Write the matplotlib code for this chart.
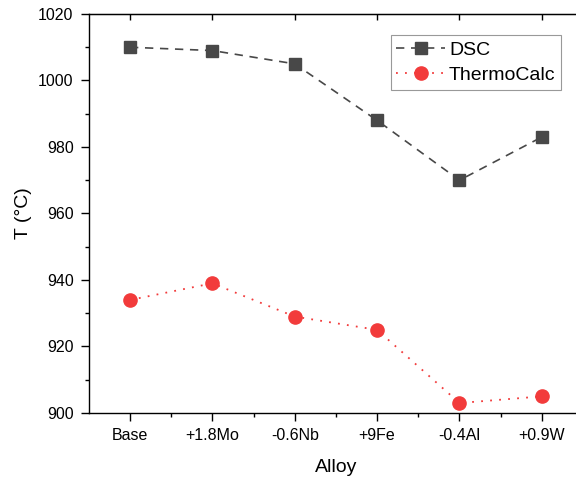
import matplotlib
matplotlib.use("Agg")
import matplotlib.pyplot as plt
from matplotlib.ticker import MultipleLocator

plt.rcParams["font.family"] = ["Liberation Sans", "DejaVu Sans"]

alloys = ["Base", "+1.8Mo", "-0.6Nb", "+9Fe", "-0.4Al", "+0.9W"]
dsc = [1010, 1009, 1005, 988, 970, 983]
thermocalc = [934, 939, 929, 925, 903, 905]

fig = plt.figure(figsize=(5.76, 4.79), dpi=100)
# right spine sits just past the image edge, like the reference crop
ax = fig.add_axes([0.1542, 0.1378, 0.858, 0.833])

x = list(range(len(alloys)))
ax.plot(x, dsc, color="#484848", linestyle=(0, (5, 4)), linewidth=1.2,
        marker="s", markersize=8.5, label="DSC")
ax.plot(x, thermocalc, color="#f23b3b", linestyle=(0, (1, 4)), linewidth=1.3,
        marker="o", markersize=9.5, label="ThermoCalc")

ax.set_xlim(-0.5, 5.5)
ax.set_ylim(900, 1020)
ax.set_xticks(x)
ax.set_xticklabels(alloys)
ax.set_xticks([i + 0.5 for i in x[:-1]], minor=True)
ax.yaxis.set_major_locator(MultipleLocator(20))
ax.yaxis.set_minor_locator(MultipleLocator(10))

ax.tick_params(axis="both", which="major", direction="out", length=6, width=1.0,
               labelsize=11.5, pad=5)
ax.tick_params(axis="both", which="minor", direction="out", length=3, width=1.0)
for s in ax.spines.values():
    s.set_linewidth(1.0)

# mirrored inward ticks on top and right
top = ax.secondary_xaxis("top")
top.set_xticks(x)
top.tick_params(direction="in", length=4, width=1.0, labeltop=False)
right = ax.secondary_yaxis("right")
right.set_yticks([900, 920, 940, 960, 980, 1000, 1020])
right.tick_params(direction="in", length=4, width=1.0, labelright=False)

ax.set_xlabel("Alloy", fontsize=14, labelpad=11)
ax.set_ylabel("T (°C)", fontsize=14, labelpad=4)

leg = ax.legend(loc="upper right", bbox_to_anchor=(0.956, 0.947), borderaxespad=0,
                fontsize=14, fancybox=False, edgecolor="#999999", framealpha=1,
                handlelength=2.5, handletextpad=0.2, borderpad=0.3, labelspacing=0.4)
leg.get_frame().set_linewidth(0.8)

fig.savefig("out.png", dpi=100)
